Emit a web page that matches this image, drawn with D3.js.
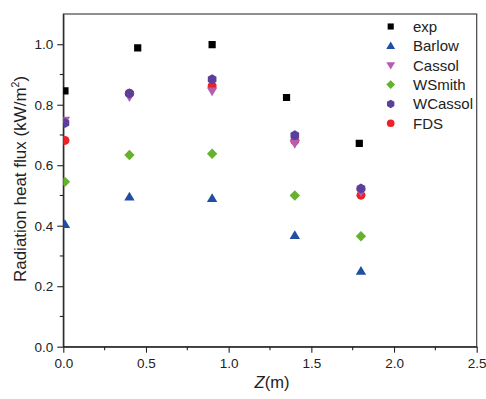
<!DOCTYPE html>
<html><head><meta charset="utf-8">
<script src="https://cdn.jsdelivr.net/npm/d3@7"></script>
<style>body{margin:0;background:#fff}svg{display:block;font-family:Arial,"Liberation Sans",sans-serif}</style>
</head><body><svg id="c" width="486" height="399"></svg>
<script>
const seriesNames = ["exp","Barlow","Cassol","WSmith","WCassol","FDS"];
const zExp = [0.01, 0.45, 0.90, 1.35, 1.79];
const zModel = [0.01, 0.40, 0.90, 1.40, 1.80];
const expVals = [0.846, 0.988, 0.999, 0.824, 0.672];
const barlowVals = [0.404, 0.495, 0.490, 0.368, 0.250];
const cassolVals = [0.748, 0.826, 0.845, 0.672, 0.512];
const wsmithVals = [0.545, 0.634, 0.638, 0.500, 0.365];
const wcassolVals = [0.740, 0.837, 0.884, 0.699, 0.523];
const fdsVals = [0.682, 0.838, 0.862, 0.681, 0.501];
const xTicks = [0, 0.5, 1.0, 1.5, 2.0, 2.5];
const yTicks = [0, 0.2, 0.4, 0.6, 0.8, 1.0];

const colors = {exp:"#000000", Barlow:"#1f4ea3", Cassol:"#b55db3", WSmith:"#66b22e", WCassol:"#5a3f9c", FDS:"#ec2227"};
const data = {
  exp: zExp.map((z,i)=>({z, v: expVals[i]})),
  Barlow: zModel.map((z,i)=>({z, v: barlowVals[i]})),
  Cassol: zModel.map((z,i)=>({z, v: cassolVals[i]})),
  WSmith: zModel.map((z,i)=>({z, v: wsmithVals[i]})),
  WCassol: zModel.map((z,i)=>({z, v: wcassolVals[i]})),
  FDS: zModel.map((z,i)=>({z, v: fdsVals[i]}))
};

const L=63.3, R=476.7, T=14, B=346.7;
const x = d3.scaleLinear().domain([0,2.5]).range([L,R]);
const y = d3.scaleLinear().domain([0,1.1]).range([B,T]);
const svg = d3.select("#c");

function shape(name){
  if(name==="exp") return "M-3.6,-3.6H3.6V3.6H-3.6Z";
  if(name==="Barlow") return "M0,-5.2L5.2,3.6L-5.2,3.6Z";
  if(name==="Cassol") return "M0,5.2L5.2,-3.6L-5.2,-3.6Z";
  if(name==="WSmith") return "M0,-5.2L5.2,0L0,5.2L-5.2,0Z";
  if(name==="WCassol"){
    const r=5, pts=d3.range(6).map(i=>{const a=Math.PI/6+i*Math.PI/3;return [r*Math.cos(a),r*Math.sin(a)];});
    return "M"+pts.map(p=>p.join(",")).join("L")+"Z";
  }
  if(name==="FDS") return d3.symbol(d3.symbolCircle, 64)();
}

svg.append("defs").append("clipPath").attr("id","clip").append("rect")
  .attr("x",L).attr("y",T).attr("width",R-L).attr("height",B-T);

svg.append("rect").attr("x",L).attr("y",T).attr("width",R-L).attr("height",B-T)
  .attr("fill","none").attr("stroke","#444").attr("stroke-width",1.2);

const xAxis = svg.append("g").attr("transform",`translate(0,${B})`)
  .call(d3.axisBottom(x).tickValues(xTicks).tickFormat(d3.format(".1f")).tickSize(6).tickSizeOuter(0));
const yAxis = svg.append("g").attr("transform",`translate(${L},0)`)
  .call(d3.axisLeft(y).tickValues(yTicks).tickFormat(d3.format(".1f")).tickSize(6).tickSizeOuter(0));
[xAxis,yAxis].forEach(a=>{
  a.select(".domain").attr("stroke","#222").attr("stroke-width",1.2);
  a.selectAll(".tick line").attr("stroke","#222").attr("stroke-width",1.1);
  a.selectAll(".tick text").attr("font-size",13.5).attr("font-family","Arial, 'Liberation Sans', sans-serif").attr("fill","#222");
});
xAxis.selectAll(".tick text").attr("dy","0.95em").attr("y",8);
yAxis.selectAll(".tick text").attr("x",-10);
const xMinor = d3.range(0.25,2.5,0.5);
const yMinor = d3.range(0.1,1.1,0.2);
svg.append("g").selectAll("line").data(xMinor).join("line")
  .attr("x1",d=>x(d)).attr("x2",d=>x(d)).attr("y1",B).attr("y2",B+3.5).attr("stroke","#222").attr("stroke-width",1.1);
svg.append("g").selectAll("line").data(yMinor).join("line")
  .attr("y1",d=>y(d)).attr("y2",d=>y(d)).attr("x1",L).attr("x2",L-3.5).attr("stroke","#222").attr("stroke-width",1.1);

const xt = svg.append("text").attr("x",(L+R)/2 + 2).attr("y",388).attr("text-anchor","middle")
  .attr("font-size",16.5).attr("fill","#222");
xt.append("tspan").attr("font-style","italic").text("Z");
xt.append("tspan").text("(m)");
const yt = svg.append("text").attr("transform",`translate(26,179) rotate(-90)`)
  .attr("text-anchor","middle").attr("font-size",17).attr("fill","#222");
yt.append("tspan").text("Radiation heat flux (kW/m");
yt.append("tspan").attr("font-size",10.5).attr("dy",-7).text("2");
yt.append("tspan").attr("dy",7).text(")");

const drawOrder = ["exp","Barlow","WSmith","FDS","Cassol","WCassol"];
const pg = svg.append("g").attr("clip-path","url(#clip)");
drawOrder.forEach(n=>{
  pg.append("g").selectAll("path").data(data[n]).join("path")
    .attr("d",shape(n)).attr("fill",colors[n])
    .attr("transform",d=>`translate(${x(d.z)},${y(d.v)})`);
});

const lg = svg.append("g");
seriesNames.forEach((n,i)=>{
  const yy = 26.5 + i*19.35;
  lg.append("path").attr("d",shape(n)).attr("fill",colors[n]).attr("transform",`translate(390.7,${yy}) scale(0.85)`);
  lg.append("text").attr("x",413).attr("y",yy).attr("dy","0.36em").attr("font-size",15).attr("fill","#222").text(n);
});
</script></body></html>
